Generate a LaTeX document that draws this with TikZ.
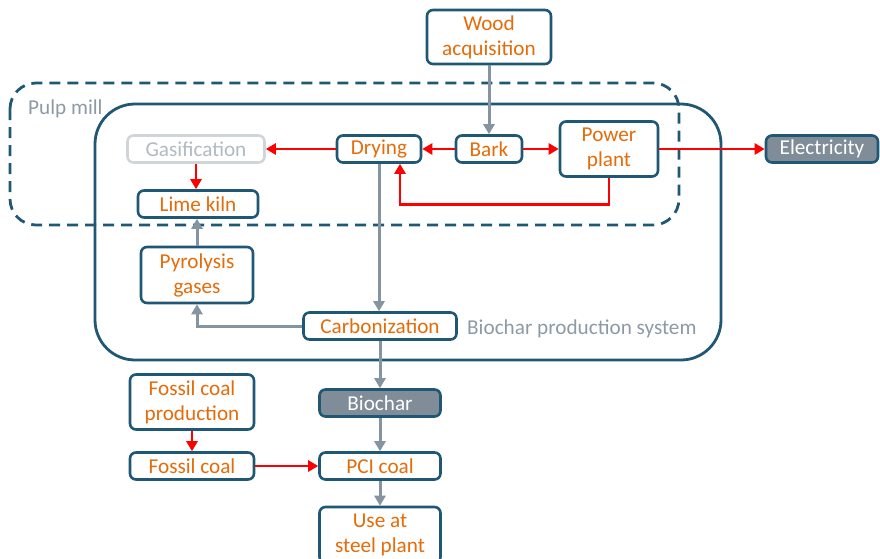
\documentclass[tikz,border=0pt]{standalone}
\usepackage{fontspec}
\setmainfont{Carlito}
\usetikzlibrary{arrows.meta,calc}
\definecolor{boxline}{RGB}{30,88,117}
\definecolor{procorange}{RGB}{228,108,10}
\definecolor{flowgray}{RGB}{132,148,160}
\definecolor{flowred}{RGB}{255,0,0}
\definecolor{outfill}{RGB}{128,141,152}
\definecolor{fadeline}{RGB}{208,213,218}
\definecolor{fadetext}{RGB}{178,186,194}
\definecolor{labelgray}{RGB}{140,154,166}
\begin{document}
\begin{tikzpicture}[x=1pt,y=-1pt,
  font=\fontsize{21.2}{25}\selectfont,
  proc/.style={draw=boxline, line width=2.6pt, rounded corners=6pt, fill=white,
    text=procorange, align=center, inner sep=0pt},
  outbox/.style={proc, fill=outfill, text=white},
  fadebox/.style={draw=fadeline, line width=2.6pt, rounded corners=6pt, fill=white,
    text=fadetext, align=center, inner sep=0pt},
  container/.style={draw=boxline, line width=2.8pt},
  grayflow/.style={draw=flowgray, line width=3pt, -{Triangle[length=10pt,width=11pt]}},
  redflow/.style={draw=flowred, line width=2.8pt, -{Triangle[length=10pt,width=11pt]}},
  arealabel/.style={text=labelgray, anchor=west, inner sep=0pt}]
\useasboundingbox (0,0) rectangle (880,558);

% system boundaries
\draw[container, dashed, dash pattern=on 11pt off 7pt, rounded corners=26pt]
  (10,83) rectangle (679,225);
\draw[container, rounded corners=40pt] (95,104) rectangle (721,360);
\node[arealabel] (pulplabel) at (28,109) {Pulp mill};
\node[arealabel] (bpslabel) at (467,329) {Biochar production system};

% process nodes
\node[proc, minimum width=124pt, minimum height=54pt] (wood) at (489,37) {Wood\\acquisition};
\node[proc, minimum width=66pt, minimum height=27pt] (bark) at (489,149) {Bark};
\node[proc, minimum width=84pt, minimum height=27pt] (drying) at (379,149) {Drying};
\node[proc, minimum width=98pt, minimum height=55pt] (power) at (609,149) {Power\\plant};
\node[outbox, minimum width=112pt, minimum height=27pt] (elec) at (822,149) {Electricity};
\node[fadebox, minimum width=137pt, minimum height=27pt] (gasif) at (196,149) {Gasification};
\node[proc, minimum width=120pt, minimum height=27pt] (lime) at (198,204) {Lime kiln};
\node[proc, minimum width=112pt, minimum height=56pt] (pyro) at (197,275) {Pyrolysis\\gases};
\node[proc, minimum width=153pt, minimum height=27pt] (carb) at (380,326) {Carbonization};
\node[proc, minimum width=124pt, minimum height=55pt] (fcprod) at (192,402) {Fossil coal\\production};
\node[proc, minimum width=124pt, minimum height=27pt] (fcoal) at (192,466) {Fossil coal};
\node[outbox, minimum width=121pt, minimum height=27pt] (biochar) at (380,403) {Biochar};
\node[proc, minimum width=121pt, minimum height=27pt] (pci) at (380,466) {PCI coal};
\node[proc, minimum width=121pt, minimum height=56pt] (steel) at (380,535) {Use at\\steel plant};

% material and energy flows
\draw[grayflow] (wood.south) -- (bark.north);
\draw[redflow] (bark.west) -- (drying.east);
\draw[redflow] (bark.east) -- (power.west);
\draw[redflow] (power.east) -- (elec.west);
\draw[redflow] (drying.west) -- (gasif.east);
\draw[redflow] (power.south) -- ++(0,27) -| ($(drying.south)+(21,0)$);
\draw[redflow] (gasif.south) -- (gasif.south |- lime.north);
\draw[grayflow] (pyro.north) -- (pyro.north |- lime.south);
\draw[grayflow] (drying.south) -- (drying.south |- carb.north);
\draw[grayflow] (carb.west) -| (pyro.south);
\draw[grayflow] (carb.south) -- (biochar.north);
\draw[grayflow] (biochar.south) -- (pci.north);
\draw[grayflow] (pci.south) -- (steel.north);
\draw[redflow] (fcprod.south) -- (fcoal.north);
\draw[redflow] (fcoal.east) -- (pci.west);
\end{tikzpicture}
\end{document}
